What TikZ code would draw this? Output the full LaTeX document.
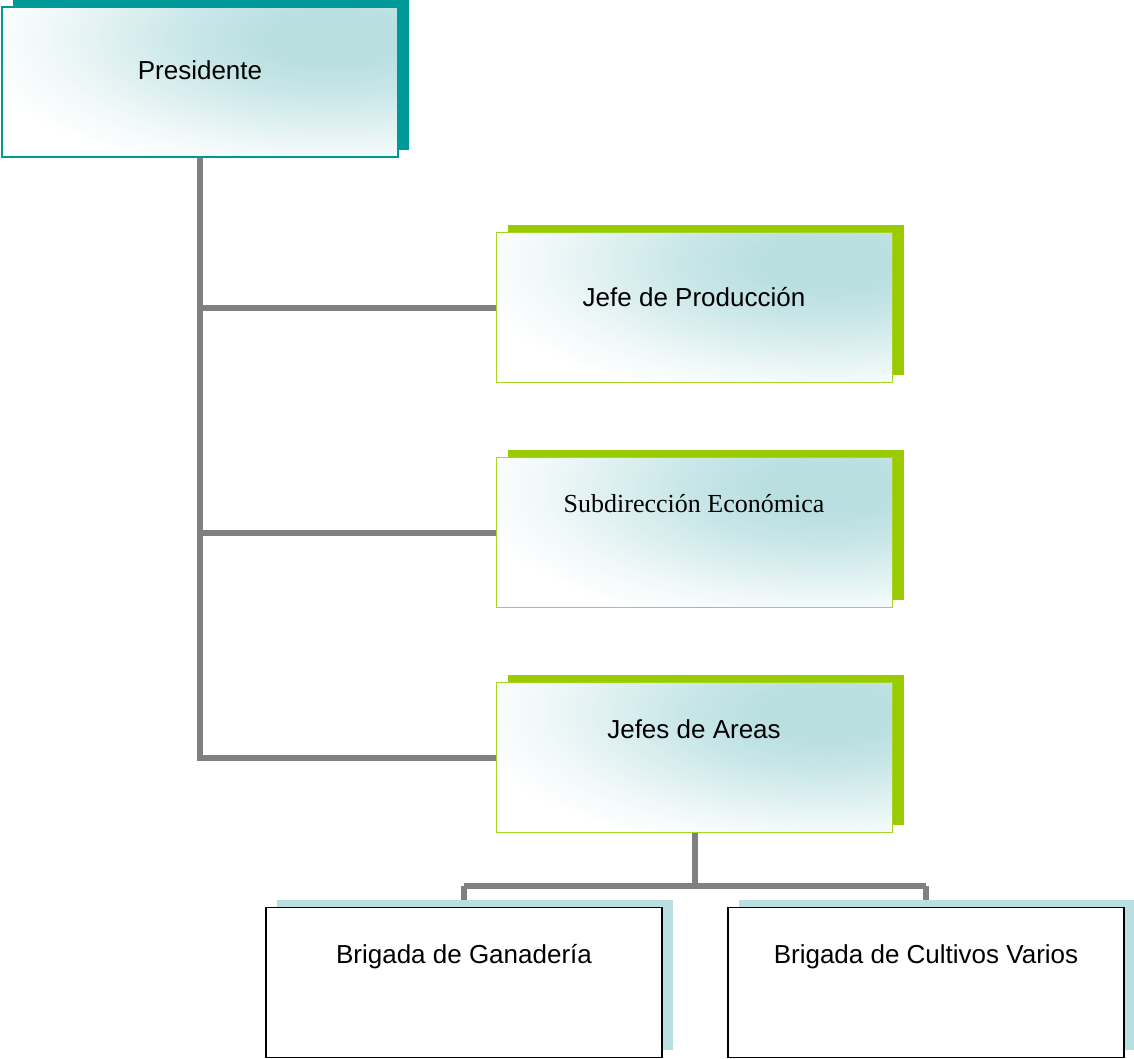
\documentclass[tikz,border=0pt]{standalone}
\usepackage{fontspec}
\setmainfont{Liberation Sans}
\newfontfamily\serifface{Liberation Serif}
\usetikzlibrary{calc}
\definecolor{tealc}{RGB}{0,153,153}
\definecolor{greenc}{RGB}{153,204,0}
\definecolor{lightc}{RGB}{185,223,225}
\definecolor{linec}{RGB}{128,128,128}
\pgfdeclareradialshading{softglow}{\pgfpoint{0bp}{0bp}}{%
  color(0bp)=(lightc); color(4bp)=(lightc); color(9bp)=(lightc!80!white);
  color(14bp)=(lightc!50!white); color(19bp)=(lightc!20!white);
  color(24bp)=(white); color(50bp)=(white)}
\pgfdeclarelayer{back}
\pgfsetlayers{back,main}
\begin{document}
\begin{tikzpicture}[x=1pt,y=-1pt,
  boxsize/.style={minimum width=396pt, minimum height=150pt, inner sep=0pt, outer sep=0pt},
  shadowbox/.style={boxsize, fill=#1},
  gradbox/.style={boxsize, draw=#1, line width=1.3pt, fill=white,
    path picture={\shade[shading=softglow]
      ($(path picture bounding box.north east)+(-65pt,-30pt)$) ellipse (380pt and 150pt);}},
  plainbox/.style={boxsize, draw=black, line width=1.3pt, fill=white},
  lbl/.style={font=\fontsize{26}{30}\selectfont, inner sep=0pt, anchor=base},
  conn/.style={draw=linec, line width=6pt}
]
\useasboundingbox (0,0) rectangle (1134,1059);

% shadows
\node[shadowbox=tealc]  (presS) at (211,75) {};
\node[shadowbox=greenc] (jpS)   at (706,300) {};
\node[shadowbox=greenc] (sdS)   at (706,525) {};
\node[shadowbox=greenc] (jaS)   at (706,750) {};
\node[shadowbox=lightc] (bgS)   at (475,975) {};
\node[shadowbox=lightc] (bcS)   at (937,975) {};

% front boxes
\node[gradbox=tealc]  (pres) at (200,82) {};
\node[gradbox=greenc!85!white] (jp) at (694.5,307.5) {};
\node[gradbox=greenc!85!white] (sd) at (694.5,532.5) {};
\node[gradbox=greenc!85!white] (ja) at (694.5,757.5) {};
\node[plainbox] (bg) at (464,982.5) {};
\node[plainbox] (bc) at (926,982.5) {};

% labels
\node[lbl] (presT) at (200,80) {Presidente};
\node[lbl] (jpT) at (694,306) {Jefe de Producción};
\node[lbl, font=\fontsize{26}{30}\serifface] (sdT) at (694,512) {Subdirección Económica};
\node[lbl] (jaT) at (694,738) {Jefes de Areas};
\node[lbl] (bgT) at (464,963) {Brigada de Ganadería};
\node[lbl] (bcT) at (926,963) {Brigada de Cultivos Varios};

% connectors
\begin{pgfonlayer}{back}
\draw[conn] (pres.south) -- (pres.south |- ja.west) -- (ja.west);
\draw[conn] (pres.south |- jp.west) -- (jp.west);
\draw[conn] (pres.south |- sd.west) -- (sd.west);
\coordinate (mid) at ($(ja.south)+(0,53)$);
\draw[conn] (ja.south) -- (mid);
\draw[conn] (mid -| bg.north) -- (mid -| bc.north);
\draw[conn] (mid -| bg.north) -- (bg.north);
\draw[conn] (mid -| bc.north) -- (bc.north);
\end{pgfonlayer}
\end{tikzpicture}
\end{document}
